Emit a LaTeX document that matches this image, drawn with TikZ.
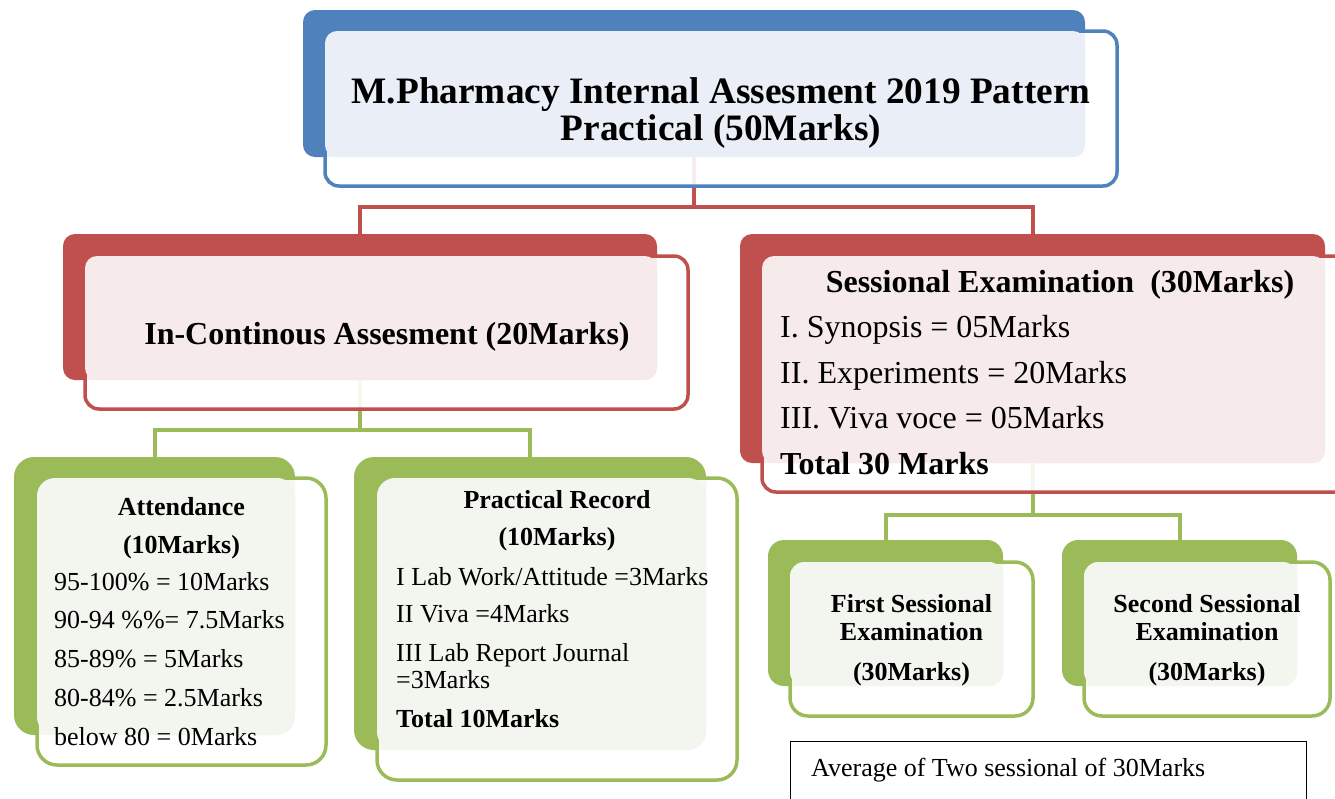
\documentclass[tikz,border=0pt]{standalone}
\usepackage{fontspec}
\setmainfont{Liberation Serif}
\definecolor{accblue}{HTML}{4F81BD}
\definecolor{accred}{HTML}{C0504D}
\definecolor{accgreen}{HTML}{9BBB59}
\definecolor{tintblue}{HTML}{EAEFF7}
\definecolor{tintred}{HTML}{F6EAEA}
\definecolor{tintgreen}{HTML}{F3F6EE}

\begin{document}
\begin{tikzpicture}[x=1pt, y=-1pt,
	back/.style={inner sep=0pt, outer sep=0pt, anchor=north west, rounded corners=12pt},
	frame/.style={draw, line width=3.5pt, fill=white, fill opacity=0.9, inner sep=0pt, outer sep=0pt, anchor=north west, rounded corners=14pt},
	link/.style={line width=4pt},
	bighead/.style={font=\fontsize{37.3}{37}\selectfont\bfseries, align=center, anchor=base},
	midhead/.style={font=\fontsize{32}{46}\selectfont\bfseries, align=center, anchor=base},
	smallhead/.style={align=center, anchor=base},
	itemlist/.style={align=left, anchor=base west, inner sep=0pt}]
	\useasboundingbox (0,0) rectangle (1335,798);
	\clip (0,0) rectangle (1335,798);

		\node (topbk) [back, fill=accblue, minimum width=782pt, minimum height=147pt] at (303,10) {};
		\node (icabk) [back, fill=accred, minimum width=594pt, minimum height=146pt] at (63,234) {};
		\node (sessbk) [back, fill=accred, minimum width=585pt, minimum height=229pt] at (740,234) {};
		\node (attbk) [back, fill=accgreen, rounded corners=20pt, minimum width=281pt, minimum height=278pt] at (14,457) {};
		\node (recbk) [back, fill=accgreen, rounded corners=20pt, minimum width=352pt, minimum height=293pt] at (354,457) {};
		\node (firstbk) [back, fill=accgreen, rounded corners=16pt, minimum width=235pt, minimum height=146pt] at (768,540) {};
		\node (secondbk) [back, fill=accgreen, rounded corners=16pt, minimum width=235pt, minimum height=146pt] at (1062,540) {};

		\draw[link, accred] (topbk.south) -- ++(0,50) coordinate (topjn) -| (icabk.north);
		\draw[link, accred] (topjn) -| (sessbk.north);
		\draw[link, accgreen] (icabk.south) -- ++(0,50) coordinate (icajn) -| (attbk.north);
		\draw[link, accgreen] (icajn) -| (recbk.north);
		\draw[link, accgreen] (sessbk.south) -- ++(0,52) coordinate (sessjn) -| (firstbk.north);
		\draw[link, accgreen] (sessjn) -| (secondbk.north);

		\node (topfr) [frame, draw=accblue, minimum width=792pt, minimum height=155pt] at (325,31) {};
		\node (icafr) [frame, draw=accred, minimum width=603pt, minimum height=153pt] at (85,256) {};
		\node (sessfr) [frame, draw=accred, minimum width=620pt, minimum height=236pt] at (762,256) {};
		\node (attfr) [frame, draw=accgreen, rounded corners=20pt, minimum width=289pt, minimum height=287pt] at (37,478) {};
		\node (recfr) [frame, draw=accgreen, rounded corners=20pt, minimum width=360pt, minimum height=302pt] at (377,478) {};
		\node (firstfr) [frame, draw=accgreen, rounded corners=18pt, minimum width=243pt, minimum height=154pt] at (790,562) {};
		\node (secondfr) [frame, draw=accgreen, rounded corners=18pt, minimum width=246pt, minimum height=154pt] at (1084,562) {};

		\fill[tintblue, rounded corners=12pt] (topfr.north west) rectangle (topbk.south east);
		\fill[tintred, rounded corners=12pt] (icafr.north west) rectangle (icabk.south east);
		\fill[tintred, rounded corners=12pt] (sessfr.north west) rectangle (sessbk.south east);
		\fill[tintgreen, rounded corners=18pt] (attfr.north west) rectangle (attbk.south east);
		\fill[tintgreen, rounded corners=18pt] (recfr.north west) rectangle (recbk.south east);
		\fill[tintgreen, rounded corners=14pt] (firstfr.north west) rectangle (firstbk.south east);
		\fill[tintgreen, rounded corners=14pt] (secondfr.north west) rectangle (secondbk.south east);

		\node (toptxt) [bighead] at (721,140) {M.Pharmacy Internal Assesment 2019 Pattern\\Practical (50Marks)};
		\node (icatxt) [midhead] at (387,344) {In-Continous Assesment (20Marks)};

		\node (sesshead) [midhead] at (1060,292) {Sessional Examination\ \ (30Marks)};
		\node (sesslist) [itemlist, font=\fontsize{32}{45.5}\selectfont] at (780,474) {I. Synopsis = 05Marks\\II. Experiments = 20Marks\\III. Viva voce = 05Marks\\\textbf{Total 30 Marks}};

		\node (atthead) [smallhead, font=\fontsize{26}{38}\selectfont\bfseries] at (181.5,553) {Attendance\\(10Marks)};
		\node (attlist) [itemlist, font=\fontsize{26}{38.7}\selectfont] at (54,745) {95-100\% = 10Marks\\90-94 \%\%= 7.5Marks\\85-89\% = 5Marks\\80-84\% = 2.5Marks\\below 80 = 0Marks};

		\node (rechead) [smallhead, font=\fontsize{26}{37}\selectfont\bfseries] at (557,545) {Practical Record\\(10Marks)};
		\node (reclist) [itemlist, font=\fontsize{26}{27}\selectfont] at (396,727) {I Lab Work/Attitude =3Marks\\[10pt]II Viva =4Marks\\[12pt]III Lab Report Journal\\=3Marks\\[12pt]\textbf{Total 10Marks}};

		\node (firsttxt) [smallhead, font=\fontsize{26}{28}\selectfont\bfseries] at (911.5,680) {First Sessional\\Examination\\[12pt](30Marks)};
		\node (secondtxt) [smallhead, font=\fontsize{26}{28}\selectfont\bfseries] at (1207,680) {Second Sessional\\Examination\\[12pt](30Marks)};

		\node (avgbox) [draw, line width=1.2pt, inner sep=0pt, anchor=north west, minimum width=516pt, minimum height=90pt] at (790,741) {};
		\node (avgtxt) [anchor=base west, inner sep=0pt, font=\fontsize{26}{30}\selectfont] at (811,776) {Average of Two sessional of 30Marks};

	\end{tikzpicture}
\end{document}
